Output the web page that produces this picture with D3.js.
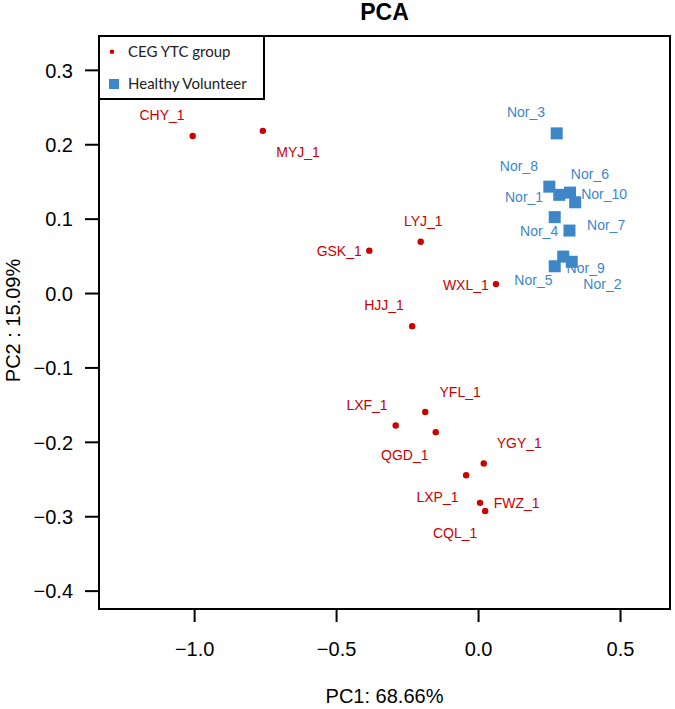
<!DOCTYPE html>
<html>
<head>
<meta charset="utf-8">
<script src="https://cdn.jsdelivr.net/npm/d3@7"></script>
<style>
  html, body { margin: 0; padding: 0; background: #fff; }
  svg { display: block; }
</style>
</head>
<body>
<svg id="chart" width="675" height="709"></svg>
<script>
// ---------- data ----------
const cegNames = ["CHY_1","MYJ_1","LYJ_1","GSK_1","WXL_1","HJJ_1","YFL_1","LXF_1","QGD_1","YGY_1","LXP_1","FWZ_1","CQL_1"];
const cegPC1   = [-1.005,-0.758,-0.202,-0.383, 0.063,-0.232,-0.186,-0.290,-0.149, 0.020,-0.042, 0.007, 0.025];
const cegPC2   = [ 0.211, 0.218, 0.069, 0.057, 0.012,-0.0445,-0.160,-0.178,-0.187,-0.229,-0.245,-0.282,-0.293];
// label anchor positions (data units), as placed in the original figure
const cegLabPC1 = [-1.113,-0.634,-0.193,-0.489,-0.043,-0.331,-0.063,-0.391,-0.258, 0.145,-0.143, 0.136,-0.081];
const cegLabPC2 = [ 0.239, 0.189, 0.0966, 0.0567, 0.0112,-0.0158,-0.1328,-0.1503,-0.2182,-0.2011,-0.2745,-0.2820,-0.3225];

const norNames = ["Nor_8","Nor_1","Nor_3","Nor_2","Nor_4","Nor_5","Nor_6","Nor_7","Nor_9","Nor_10"];
const norPC1   = [0.251, 0.286, 0.277, 0.330, 0.270, 0.270, 0.324, 0.322, 0.300, 0.342];
const norPC2   = [0.143, 0.132, 0.2146, 0.042, 0.102, 0.036, 0.135, 0.084, 0.049, 0.122];
const norLabPC1 = [0.144, 0.162, 0.169, 0.438, 0.215, 0.195, 0.394, 0.451, 0.379, 0.444];
const norLabPC2 = [0.1708, 0.1296, 0.2433, 0.0116, 0.0831, 0.0179, 0.1601, 0.0912, 0.0341, 0.1327];

const xTicks = [-1.0, -0.5, 0.0, 0.5];
const yTicks = [-0.4, -0.3, -0.2, -0.1, 0.0, 0.1, 0.2, 0.3];
const xDomain = [-1.335, 0.676];
const yDomain = [-0.4247, 0.3455];

const legendLabels = ["CEG YTC group", "Healthy Volunteer"];
const titleText = "PCA";
const xTitle = "PC1: 68.66%";
const yTitle = "PC2 : 15.09%";

// ---------- layout ----------
const RED = "#cc0000";
const BLUE = "#3d86c8";
const margin = { left: 99, right: 5, top: 36, bottom: 100 };
const W = 675, H = 709;
const plotL = margin.left, plotR = W - margin.right, plotT = margin.top, plotB = H - margin.bottom;

const svg = d3.select("#chart");
const x = d3.scaleLinear().domain(xDomain).range([plotL, plotR]);
const y = d3.scaleLinear().domain(yDomain).range([plotB, plotT]);

const fmt = d3.format(".1f");

// axes
const gx = svg.append("g")
  .attr("transform", `translate(0,${plotB})`)
  .call(d3.axisBottom(x).tickValues(xTicks).tickFormat(fmt).tickSize(13).tickSizeOuter(0).tickPadding(20));
const gy = svg.append("g")
  .attr("transform", `translate(${plotL},0)`)
  .call(d3.axisLeft(y).tickValues(yTicks).tickFormat(fmt).tickSize(14).tickSizeOuter(0).tickPadding(12));
[gx, gy].forEach(g => {
  g.select(".domain").remove();
  g.selectAll(".tick line").attr("stroke", "#000").attr("stroke-width", 2);
  g.selectAll(".tick text").attr("fill", "#000")
    .style("font-family", "'Liberation Sans', Arial, sans-serif")
    .style("font-size", "20px");
});
gy.selectAll(".tick text").attr("dy", "0.36em");

// points: CEG (red dots)
const ceg = cegNames.map((n, i) => ({ n, x: cegPC1[i], y: cegPC2[i], lx: cegLabPC1[i], ly: cegLabPC2[i] }));
const nor = norNames.map((n, i) => ({ n, x: norPC1[i], y: norPC2[i], lx: norLabPC1[i], ly: norLabPC2[i] }));

svg.append("g").selectAll("circle").data(ceg).join("circle")
  .attr("cx", d => x(d.x)).attr("cy", d => y(d.y)).attr("r", 3.2).attr("fill", RED);

const sq = 12;
svg.append("g").selectAll("rect").data(nor).join("rect")
  .attr("x", d => x(d.x) - sq / 2).attr("y", d => y(d.y) - sq / 2)
  .attr("width", sq).attr("height", sq).attr("fill", BLUE);

// labels
const labFont = "'Liberation Sans', Arial, sans-serif";
svg.append("g").selectAll("text").data(ceg).join("text")
  .attr("x", d => x(d.lx)).attr("y", d => y(d.ly)).attr("dy", "0.36em")
  .attr("text-anchor", "middle").attr("fill", RED)
  .style("font-family", labFont).style("font-size", "14px").text(d => d.n);
svg.append("g").selectAll("text").data(nor).join("text")
  .attr("x", d => x(d.lx)).attr("y", d => y(d.ly)).attr("dy", "0.36em")
  .attr("text-anchor", "middle").attr("fill", BLUE)
  .style("font-family", labFont).style("font-size", "14px").text(d => d.n);

// plot box
svg.append("rect")
  .attr("x", plotL).attr("y", plotT).attr("width", plotR - plotL).attr("height", plotB - plotT)
  .attr("fill", "none").attr("stroke", "#000").attr("stroke-width", 2);

// legend
const lg = svg.append("g");
lg.append("rect").attr("x", plotL).attr("y", plotT).attr("width", 165).attr("height", 63)
  .attr("fill", "#fff").attr("stroke", "#000").attr("stroke-width", 2);
lg.append("circle").attr("cx", 112).attr("cy", 51.7).attr("r", 2.3).attr("fill", RED);
lg.append("rect").attr("x", 109).attr("y", 79).attr("width", 10).attr("height", 10).attr("fill", BLUE);
lg.selectAll("text.leg").data(legendLabels).join("text").attr("class", "leg")
  .attr("x", 128).attr("y", (d, i) => i === 0 ? 56.7 : 88.7)
  .attr("fill", "#222")
  .style("font-family", "Lato, 'Open Sans', sans-serif").style("font-size", "15px")
  .text(d => d);

// titles
svg.append("text").attr("x", (plotL + plotR) / 2).attr("y", 20).attr("text-anchor", "middle")
  .style("font-family", "'Liberation Sans', Arial, sans-serif").style("font-size", "23px").style("font-weight", "bold")
  .text(titleText);
svg.append("text").attr("x", (plotL + plotR) / 2).attr("y", 703).attr("text-anchor", "middle")
  .style("font-family", "'Liberation Sans', Arial, sans-serif").style("font-size", "20px")
  .text(xTitle);
svg.append("text").attr("transform", `translate(20,${(plotT + plotB) / 2 - 2}) rotate(-90)`)
  .attr("text-anchor", "middle")
  .style("font-family", "'Liberation Sans', Arial, sans-serif").style("font-size", "20px")
  .text(yTitle);
</script>
</body>
</html>
